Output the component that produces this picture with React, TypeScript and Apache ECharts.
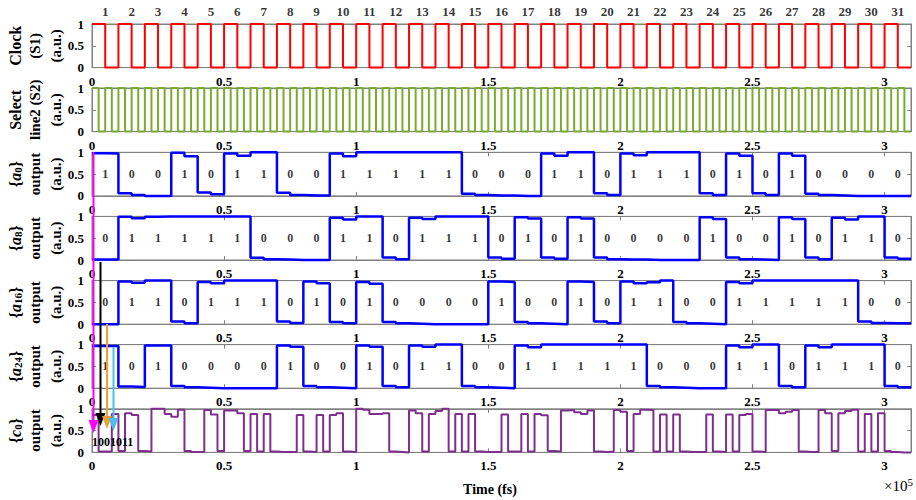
import React, { useEffect, useRef } from "react";
import * as echarts from "echarts";

// ---------- data ----------
const T_MAX = 310000; // fs
const BIT_FS = 10000;
const HALF_FS = 5000;
const QUARTER_FS = 2500;
const X_TICK_LABELS = ["0", "0.5", "1", "1.5", "2", "2.5", "3"];

const CLOCK_NUMBERS = [1, 2, 3, 4, 5, 6, 7, 8, 9, 10, 11, 12, 13, 14, 15, 16, 17, 18, 19, 20, 21, 22, 23, 24, 25, 26, 27, 28, 29, 30, 31];

// clock: level per half-bit (5000 fs)
const CLOCK_LEVELS = [
  1, 0, 1, 0, 1, 0, 1, 0, 1, 0, 1, 0, 1, 0, 1, 0, 1, 0, 1, 0,
  1, 0, 1, 0, 1, 0, 1, 0, 1, 0, 1, 0, 1, 0, 1, 0, 1, 0, 1, 0,
  1, 0, 1, 0, 1, 0, 1, 0, 1, 0, 1, 0, 1, 0, 1, 0, 1, 0, 1, 0,
  1, 0,
];

// select line 2: level per quarter-bit (2500 fs)
const SELECT_LEVELS = [
  1, 0, 1, 0, 1, 0, 1, 0, 1, 0, 1, 0, 1, 0, 1, 0, 1, 0, 1, 0,
  1, 0, 1, 0, 1, 0, 1, 0, 1, 0, 1, 0, 1, 0, 1, 0, 1, 0, 1, 0,
  1, 0, 1, 0, 1, 0, 1, 0, 1, 0, 1, 0, 1, 0, 1, 0, 1, 0, 1, 0,
  1, 0, 1, 0, 1, 0, 1, 0, 1, 0, 1, 0, 1, 0, 1, 0, 1, 0, 1, 0,
  1, 0, 1, 0, 1, 0, 1, 0, 1, 0, 1, 0, 1, 0, 1, 0, 1, 0, 1, 0,
  1, 0, 1, 0, 1, 0, 1, 0, 1, 0, 1, 0, 1, 0, 1, 0, 1, 0, 1, 0,
  1, 0, 1, 0,
];

const A0_BITS = [1, 0, 0, 1, 0, 1, 1, 0, 0, 1, 1, 1, 1, 1, 0, 0, 0, 1, 1, 0, 1, 1, 1, 0, 1, 0, 1, 0, 0, 0, 0];
const A8_BITS = [0, 1, 1, 1, 1, 1, 0, 0, 0, 1, 1, 0, 1, 1, 1, 0, 1, 0, 1, 0, 0, 0, 0, 1, 0, 0, 1, 0, 1, 1, 0];
const A16_BITS = [0, 1, 1, 0, 1, 1, 1, 0, 1, 0, 1, 0, 0, 0, 0, 1, 0, 0, 1, 0, 1, 1, 0, 0, 1, 1, 1, 1, 1, 0, 0];
const A24_BITS = [1, 0, 1, 0, 0, 0, 0, 1, 0, 0, 1, 0, 1, 1, 0, 0, 1, 1, 1, 1, 1, 0, 0, 0, 1, 1, 0, 1, 1, 1, 0];

// measured output levels per half-bit (5000 fs)
const A0_LEVELS = [
  0.98, 0.97, 0.06, 0.02, 0, 0, 0.99, 0.91, 0.08, 0.04,
  0.97, 0.92, 1, 1, 0.07, 0.02, 0.01, 0.01, 0.97, 0.91,
  1, 1, 1, 1, 1, 1, 1, 1, 0.05, 0.02,
  0.01, 0.01, 0, 0, 0.97, 0.92, 1, 1, 0.06, 0.02,
  0.97, 0.93, 1, 1, 1, 1, 0.06, 0.02, 0.97, 0.92,
  0.06, 0.02, 0.97, 0.92, 0.05, 0.02, 0.01, 0, 0, 0,
  0, 0,
];
const A8_LEVELS = [
  0.01, 0.01, 0.99, 0.96, 0.99, 1, 1, 1, 1, 1,
  1, 1, 0.05, 0.02, 0.01, 0, 0, 0, 0.97, 0.93,
  1, 1, 0.06, 0.02, 0.97, 0.94, 1, 1, 1, 1,
  0.06, 0.03, 0.98, 0.95, 0.06, 0.03, 0.98, 0.95, 0.06, 0.02,
  0.01, 0.01, 0, 0, 0, 0, 0.98, 0.94, 0.06, 0.02,
  0.01, 0, 0.98, 0.94, 0.06, 0.02, 0.97, 0.93, 1, 1,
  0.06, 0.03,
];
const A16_LEVELS = [
  0, 0, 0.98, 0.95, 1, 1, 0.06, 0.02, 0.97, 0.94,
  1, 1, 1, 1, 0.06, 0.03, 0.98, 0.94, 0.05, 0.02,
  0.97, 0.93, 0.05, 0.02, 0.01, 0, 0, 0, 0, 0,
  0.98, 0.97, 0.05, 0.02, 0.01, 0, 0.98, 0.97, 0.06, 0.02,
  0.98, 0.94, 0.96, 1, 0.05, 0.02, 0.01, 0, 0.97, 0.94,
  1, 1, 1, 1, 1, 1, 1, 1, 0.06, 0.03,
  0.02, 0.02,
];
const A24_LEVELS = [
  0.97, 0.97, 0.04, 0.03, 0.98, 0.98, 0.05, 0.02, 0.01, 0,
  0, 0, 0, 0, 0.98, 0.95, 0.05, 0.02, 0.01, 0,
  0.98, 0.95, 0.05, 0.02, 0.98, 0.95, 1, 1, 0.05, 0.02,
  0.01, 0, 0.98, 0.94, 1, 1, 1, 1, 1, 1,
  1, 1, 0.05, 0.02, 0.01, 0, 0, 0, 0.98, 0.94,
  1, 1, 0.05, 0.02, 0.98, 0.94, 1, 1, 1, 1,
  0.05, 0.02,
];

// c0 output: level per quarter-bit slot (2500 fs), four slots per bit
const C0_LEVELS = [
  0.86, 0.02, 0.02, 0.88, 0.03, 0.9, 0.86, 0.03, 0.02, 1.0, 1.0, 0.88,
  0.82, 0.98, 0.03, 0.01, 0.01, 0.97, 0.87, 0.03, 0.96, 0.96, 0.9, 0.03,
  0.88, 0.02, 0.88, 0.02, 0.01, 0.01, 0.01, 0.86, 0.02, 0.01, 0.86, 0.02,
  0.86, 0.9, 0.02, 0.01, 1.0, 0.98, 0.88, 0.88, 0.9, 0.02, 0.01, 0.0,
  0.96, 0.9, 0.02, 0.88, 0.95, 1.0, 0.02, 0.88, 0.02, 0.88, 0.02, 0.01,
  0.01, 0.01, 0.87, 0.02, 0.02, 0.88, 0.02, 0.88, 0.85, 0.03, 0.02, 0.96,
  0.97, 0.92, 0.88, 0.96, 0.02, 0.01, 0.02, 0.97, 0.93, 0.03, 0.88, 0.98,
  0.97, 0.02, 0.87, 0.02, 0.87, 0.02, 0.01, 0.01, 0.01, 0.87, 0.02, 0.01,
  0.87, 0.02, 0.86, 0.88, 0.02, 0.01, 0.97, 0.97, 0.9, 0.93, 0.97, 0.02,
  0.01, 0.01, 0.97, 0.9, 0.03, 0.9, 0.95, 0.98, 0.02, 0.88, 0.02, 0.9,
  0.03, 0.01, 0.0, 0.0,
];

const C0_CAPTION = "1001011";

// ---------- layout / style ----------
const FONT = '"Liberation Serif", "Times New Roman", serif';
const GRAY = "#808080";
const GRID_TOPS = [24, 88, 152.3, 216.4, 280.6, 344.6, 408.8];
const GRID_H = 43.6;
const LEFT = 92;
const RIGHT = 5;

const PANELS = [
  { levels: CLOCK_LEVELS, dt: HALF_FS, color: "#FF0000", width: 2, bits: null },
  { levels: SELECT_LEVELS, dt: QUARTER_FS, color: "#77AC30", width: 2, bits: null },
  { levels: A0_LEVELS, dt: HALF_FS, color: "#0000FF", width: 2.5, bits: A0_BITS },
  { levels: A8_LEVELS, dt: HALF_FS, color: "#0000FF", width: 2.5, bits: A8_BITS },
  { levels: A16_LEVELS, dt: HALF_FS, color: "#0000FF", width: 2.5, bits: A16_BITS },
  { levels: A24_LEVELS, dt: HALF_FS, color: "#0000FF", width: 2.5, bits: A24_BITS },
  { levels: C0_LEVELS, dt: QUARTER_FS, color: "#7E2F8E", width: 2, bits: null },
];

const Y_NAMES = [
  ["Clock", "(S1)", "(a.u.)"],
  ["Select", "line2 (S2)", "(a.u.)"],
  ["{{i|a}{s|0}}", "output", "(a.u.)"],
  ["{{i|a}{s|8}}", "output", "(a.u.)"],
  ["{{i|a}{s|16}}", "output", "(a.u.)"],
  ["{{i|a}{s|24}}", "output", "(a.u.)"],
  ["{{i|c}{s|0}}", "output", "(a.u.)"],
];
const Y_NAME_X = [15, 35, 56];

function buildSteps(levels: number[], dt: number) {
  const pts: number[][] = levels.map((v, i) => [i * dt, v]);
  pts.push([levels.length * dt, levels[levels.length - 1]]);
  return pts;
}

function buildOption() {
  const grid: any[] = [];
  const xAxis: any[] = [];
  const yAxis: any[] = [];
  const series: any[] = [];
  const graphic: any[] = [];

  PANELS.forEach((p, i) => {
    grid.push({
      left: LEFT,
      right: RIGHT,
      top: GRID_TOPS[i],
      height: GRID_H,
      show: true,
      borderColor: GRAY,
      borderWidth: 1,
      backgroundColor: "#fff",
    });
    const xBase = {
      type: "value",
      gridIndex: i,
      min: 0,
      max: T_MAX,
      interval: 50000,
      splitLine: { show: false },
      axisLine: { show: true, onZero: false, lineStyle: { color: GRAY, width: 1 } },
      axisTick: { show: true, inside: true, length: 4, lineStyle: { color: GRAY } },
    };
    xAxis.push({
      ...xBase,
      position: "bottom",
      axisLabel: {
        show: true,
        margin: 7,
        color: "#000",
        fontFamily: FONT,
        fontWeight: "bold",
        fontSize: 13,
        showMaxLabel: false,
        formatter: (v: number) => (v % 50000 === 0 ? X_TICK_LABELS[v / 50000] ?? "" : ""),
      },
    });
    xAxis.push({ ...xBase, position: "top", axisLabel: { show: false } });
    const yBase = {
      type: "value",
      gridIndex: i,
      min: 0,
      max: 1,
      interval: 0.5,
      splitLine: { show: false },
      axisLine: { show: true, onZero: false, lineStyle: { color: GRAY, width: 1 } },
      axisTick: { show: true, inside: true, length: 4, lineStyle: { color: GRAY } },
    };
    yAxis.push({
      ...yBase,
      position: "left",
      axisLabel: {
        show: true,
        margin: 8,
        color: "#000",
        fontFamily: FONT,
        fontWeight: "bold",
        fontSize: 13,
      },
    });
    yAxis.push({ ...yBase, position: "right", axisLabel: { show: false } });

    series.push({
      type: "line",
      xAxisIndex: 2 * i,
      yAxisIndex: 2 * i,
      data: buildSteps(p.levels, p.dt),
      step: "end",
      symbol: "none",
      showSymbol: false,
      clip: false,
      silent: true,
      lineStyle: { color: p.color, width: p.width },
      z: 3,
    });

    if (p.bits) {
      series.push({
        type: "scatter",
        xAxisIndex: 2 * i,
        yAxisIndex: 2 * i,
        symbolSize: 1,
        silent: true,
        itemStyle: { color: "rgba(0,0,0,0)" },
        data: p.bits.map((b, k) => ({ value: [k * BIT_FS + HALF_FS, 0.5], name: String(b) })),
        label: {
          show: true,
          position: "inside",
          formatter: "{b}",
          color: "#000",
          fontFamily: FONT,
          fontWeight: "bold",
          fontSize: 12,
        },
        z: 4,
      });
    }

    const cy = GRID_TOPS[i] + GRID_H / 2;
    Y_NAMES[i].forEach((txt, j) => {
      const fs = j === 0 ? 16 : 15;
      graphic.push({
        type: "text",
        x: Y_NAME_X[j],
        y: cy,
        rotation: Math.PI / 2,
        style: {
          text: txt,
          fill: "#000",
          fontFamily: FONT,
          fontWeight: "bold",
          fontSize: fs,
          align: "center",
          verticalAlign: "middle",
          rich: {
            i: { fontFamily: FONT, fontWeight: "bold", fontStyle: "italic", fontSize: fs, fill: "#000" },
            s: { fontFamily: FONT, fontWeight: "bold", fontSize: 11, fill: "#000", verticalAlign: "bottom", padding: [6, 0, 0, 0] },
          },
        },
        z: 10,
      });
    });
  });

  // clock pulse numbers
  series.push({
    type: "scatter",
    xAxisIndex: 0,
    yAxisIndex: 0,
    symbolSize: 1,
    silent: true,
    itemStyle: { color: "rgba(0,0,0,0)" },
    data: CLOCK_NUMBERS.map((n, k) => ({ value: [k * BIT_FS + HALF_FS, 1], name: String(n) })),
    label: {
      show: true,
      position: "top",
      distance: 6,
      formatter: "{b}",
      color: "#000",
      fontFamily: FONT,
      fontWeight: "bold",
      fontSize: 13,
    },
    z: 4,
  });

  // sampling arrows into the c0 panel
  const arrows = [
    { x: 93.5, y0: 152, y1: 433, color: "#FF00FF" },
    { x: 100.5, y0: 262, y1: 426, color: "#000000" },
    { x: 107, y0: 324, y1: 429, color: "#F0A030" },
    { x: 113.5, y0: 347, y1: 431, color: "#4DBEEE" },
  ];
  arrows.forEach((a) => {
    graphic.push({
      type: "line",
      shape: { x1: a.x, y1: a.y0, x2: a.x, y2: a.y1 - 9 },
      style: { stroke: a.color, lineWidth: 2 },
      z: 20,
    });
    graphic.push({
      type: "polygon",
      shape: { points: [[a.x - 5, a.y1 - 13], [a.x + 5, a.y1 - 13], [a.x, a.y1]] },
      style: { fill: a.color },
      z: 20,
    });
  });

  graphic.push({
    type: "text",
    x: 92,
    y: 442,
    style: {
      text: C0_CAPTION,
      fill: "#000",
      fontFamily: FONT,
      fontWeight: "bold",
      fontSize: 12,
      align: "left",
      verticalAlign: "middle",
    },
    z: 21,
  });

  graphic.push({
    type: "text",
    x: 490,
    y: 489,
    style: {
      text: "Time (fs)",
      fill: "#000",
      fontFamily: FONT,
      fontWeight: "bold",
      fontSize: 14,
      align: "center",
      verticalAlign: "middle",
    },
  });
  graphic.push({
    type: "text",
    x: 913,
    y: 486,
    style: {
      text: "×10{sup|5}",
      fill: "#000",
      fontFamily: FONT,
      fontSize: 15,
      align: "right",
      verticalAlign: "middle",
      rich: {
        sup: { fontFamily: FONT, fontSize: 11, fill: "#000", verticalAlign: "top", padding: [0, 0, 9, 0] },
      },
    },
  });

  return {
    animation: false,
    backgroundColor: "#fff",
    grid,
    xAxis,
    yAxis,
    series,
    graphic,
  };
}

export default function App() {
  const ref = useRef<HTMLDivElement>(null);
  useEffect(() => {
    if (!ref.current) return;
    const chart = echarts.init(ref.current, null, { renderer: "svg" });
    chart.setOption(buildOption() as any);
    return () => chart.dispose();
  }, []);
  return (
    <div
      ref={ref}
      style={{ position: "absolute", left: 0, top: 0, width: 916, height: 500, background: "#fff" }}
    />
  );
}
